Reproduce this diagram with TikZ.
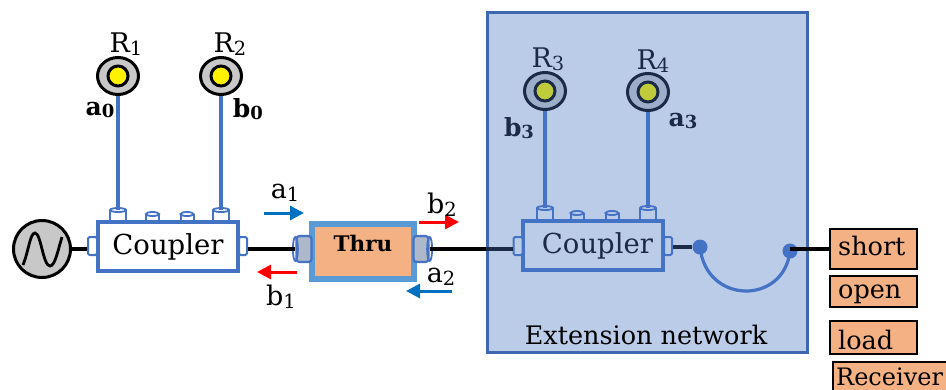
\documentclass[tikz,border=0pt]{standalone}
\usepackage{fontspec}
\setmainfont{DejaVu Serif}
\usetikzlibrary{shapes.geometric,arrows.meta}
\definecolor{cplblue}{HTML}{4472C4}
\definecolor{extfill}{HTML}{BBCCE9}
\definecolor{extedge}{HTML}{3F67AE}
\definecolor{dark}{HTML}{1B2A47}
\definecolor{thruedge}{HTML}{5B9BD5}
\definecolor{orangefill}{HTML}{F4B183}
\definecolor{arrowblue}{HTML}{0070C0}
\definecolor{portgrey}{HTML}{ADB9CA}
\definecolor{recgrey}{HTML}{C8C8C8}
\definecolor{recgreyb}{HTML}{9DAECB}
\definecolor{olive}{HTML}{C0CB3C}
\newcommand\sbn[1]{\raisebox{-.1em}{\scalebox{.72}{#1}}}
% top port: name, x centre, y top, y bottom, half width, stroke, fill
\newcommand\topport[7]{%
  \node[draw=#6,line width=2pt,fill=#7,minimum width=#5*2pt,minimum height=#4pt-#3pt,inner sep=0pt] (#1) at (#2,{(#3+#4)/2}) {};
  \draw[#6,line width=1.8pt,fill=#7] (#1.north) ellipse [x radius=#5,y radius=2];}
% side port: name, x centre, half width, y centre, stroke, fill
\newcommand\sideport[6]{%
  \node[draw=#5,line width=2pt,fill=#6,rounded corners=1.5pt,minimum width=#3*2pt,minimum height=18pt,inner sep=0pt] (#1) at (#2,#4) {};}
\tikzset{
  px/.style={x=1pt,y=-1pt},
  coupler/.style={draw=cplblue,line width=3.2pt,minimum width=140pt,minimum height=49pt,inner sep=0pt,font=\fontsize{27.5}{27.5}\selectfont},
  receiver/.style={ellipse,draw=black,line width=3pt,fill=recgrey,minimum width=41pt,minimum height=37pt,inner sep=0pt},
  receiverin/.style={circle,draw=black,line width=3pt,fill=yellow,minimum size=20pt,inner sep=0pt},
  feed/.style={cplblue,line width=3.8pt},
  wire/.style={black,line width=3.4pt},
  lab/.style={inner sep=0pt,font=\fontsize{27}{27}\selectfont},
  blab/.style={inner sep=0pt,font=\fontsize{25}{25}\selectfont\bfseries},
  sarrow/.style={line width=3pt,-{Triangle[length=14pt,width=14pt]}},
  termbox/.style={draw=black,line width=2pt,fill=orangefill,inner sep=0pt},
  termtext/.style={inner sep=0pt,anchor=base west,font=\fontsize{25.5}{25.5}\selectfont},
  dot/.style={circle,fill=cplblue,minimum size=15pt,inner sep=0pt},
}
\begin{document}
\begin{tikzpicture}[px]
\useasboundingbox (0,0) rectangle (946,389);
% extension network
\node[draw=extedge,line width=2.4pt,fill=extfill,minimum width=320pt,minimum height=340pt,inner sep=0pt] (ext) at (647.5,182.5) {};
\node[inner sep=0pt,font=\fontsize{25.5}{25.5}\selectfont,text=black] (extlab) at (646,335) {Extension network};
% source
\node[circle,draw=black,line width=3pt,fill=recgrey,minimum size=57pt,inner sep=0pt] (src) at (42,249) {};
\draw[black,line width=2.8pt] (23,265) .. controls (29,250) and (30,233) .. (35,233) .. controls (41,233) and (43,266) .. (50,266) .. controls (55,266) and (58,250) .. (62,237);
% left coupler
\node[coupler] (c1) at (168,246.5) {Coupler};
\topport{c1a}{118}{211}{221}{8}{cplblue}{white}
\topport{c1b}{152.5}{215}{221}{6.5}{cplblue}{white}
\topport{c1c}{187}{215}{221}{6.5}{cplblue}{white}
\topport{c1d}{221}{211}{221}{8}{cplblue}{white}
\sideport{c1l}{92.5}{4.5}{246}{cplblue}{white}
\sideport{c1r}{243}{4}{246}{cplblue}{white}
% receivers 1,2
\node[receiver] (r1) at (118,76) {};
\node[receiverin] (r1i) at (118,76) {};
\node[receiver] (r2) at (221,76) {};
\node[receiverin] (r2i) at (221,76) {};
\node[lab] (r1l) at (126,44) {R\sbn{1}};
\node[lab] (r2l) at (230,44) {R\sbn{2}};
\node[blab] (a0) at (100,110) {a\sbn{0}};
\node[blab] (b0) at (248,109) {b\sbn{0}};
\draw[feed] (r1.south) -- (c1a.north);
\draw[feed] (r2.south) -- (c1d.north);
\draw[wire] (src.east) -- (c1l.west |- src.east);
% thru
\node[draw=thruedge,line width=6pt,fill=orangefill,minimum width=102pt,minimum height=55pt,inner sep=0pt] (thru) at (363,251.5) {};
\node[inner sep=0pt,font=\fontsize{21.5}{21.5}\selectfont\bfseries] (thrul) at (363,243) {Thru};
\node[draw=cplblue,line width=2.2pt,fill=portgrey,rounded corners=3pt,minimum width=15pt,minimum height=26pt,inner sep=0pt] (tl) at (304,249) {};
\draw[cplblue,line width=1.8pt] (tl.west) ellipse [x radius=2.5,y radius=12];
\node[draw=cplblue,line width=2.2pt,fill=portgrey,rounded corners=3pt,minimum width=15pt,minimum height=26pt,inner sep=0pt] (tr) at (421,249) {};
\draw[cplblue,line width=1.8pt] (tr.east) ellipse [x radius=2.5,y radius=12];
\draw[wire] (c1r.east |- tl.west) -- (tl.west);
% arrows
\coordinate (a1s) at (264,213); \coordinate (a1e) at (304,213);
\coordinate (b1s) at (297,272); \coordinate (b1e) at (257,272);
\coordinate (b2s) at (419,222); \coordinate (b2e) at (459,222);
\coordinate (a2s) at (452,291); \coordinate (a2e) at (406,291);
\draw[sarrow,arrowblue] (a1s) -- (a1e);
\draw[sarrow,red] (b1s) -- (b1e);
\draw[sarrow,red] (b2s) -- (b2e);
\draw[sarrow,arrowblue] (a2s) -- (a2e);
\node[lab] (a1) at (285,193) {a\sbn{1}};
\node[lab] (b1) at (281,297) {b\sbn{1}};
\node[lab] (b2) at (442,205) {b\sbn{2}};
\node[lab] (a2) at (441,277) {a\sbn{2}};
% right coupler
\node[coupler,text=dark] (c2) at (593,245.5) {\hspace*{9pt}Coupler};
\topport{c2a}{545}{209}{220}{8}{cplblue}{extfill}
\topport{c2b}{577}{214}{220}{6.5}{cplblue}{extfill}
\topport{c2c}{612}{214}{220}{6.5}{cplblue}{extfill}
\topport{c2d}{648}{209}{220}{8}{cplblue}{extfill}
\sideport{c2l}{518}{4.5}{246}{cplblue}{extfill}
\sideport{c2r}{668}{4}{246}{cplblue}{extfill}
\draw[wire] (tr.east) -- (ext.west |- tr.east);
\draw[dark,line width=3.4pt] (ext.west |- tr.east) -- (c2l.west |- tr.east);
% receivers 3,4
\node[receiver,draw=dark,fill=recgreyb] (r3) at (545,91) {};
\node[receiverin,draw=dark,fill=olive] (r3i) at (545,91) {};
\node[receiver,draw=dark,fill=recgreyb] (r4) at (648,92) {};
\node[receiverin,draw=dark,fill=olive] (r4i) at (648,92) {};
\node[lab,text=dark] (r3l) at (548,59) {R\sbn{3}};
\node[lab,text=dark] (r4l) at (653,61) {R\sbn{4}};
\node[blab,text=dark] (b3) at (519,128) {b\sbn{3}};
\node[blab,text=dark] (a3) at (683,121) {a\sbn{3}};
\draw[feed] (r3.south) -- (c2a.north);
\draw[feed] (r4.south) -- (c2d.north);
% extension link
\node[dot] (d1) at (700,247) {};
\node[dot] (d2) at (790,251) {};
\draw[dark,line width=3.4pt] (c2r.east |- d1.west) -- (d1.west);
\draw[cplblue,line width=3.2pt] (d1.center) .. controls (706,305) and (784,305) .. (d2.center);
% terminations
\node[termbox,minimum width=87pt,minimum height=40pt] (short) at (873.5,249) {};
\node[termtext] (shortl) at (838,255) {short};
\node[termbox,minimum width=87pt,minimum height=31pt] (open) at (873.5,291.5) {};
\node[termtext] (openl) at (838,298) {open};
\node[termbox,minimum width=87pt,minimum height=33pt] (load) at (873.5,337.5) {};
\node[termtext] (loadl) at (838,349) {load};
\node[draw=black,line width=2pt,fill=orangefill,minimum width=116pt,minimum height=34pt,inner sep=0pt] (recv) at (891,379) {};
\node[termtext,font=\fontsize{24}{24}\selectfont] (recvl) at (836,385) {Receiver};
\draw[black,line width=3.4pt] (d2.center |- short.west) -- (short.west);
\end{tikzpicture}
\end{document}
